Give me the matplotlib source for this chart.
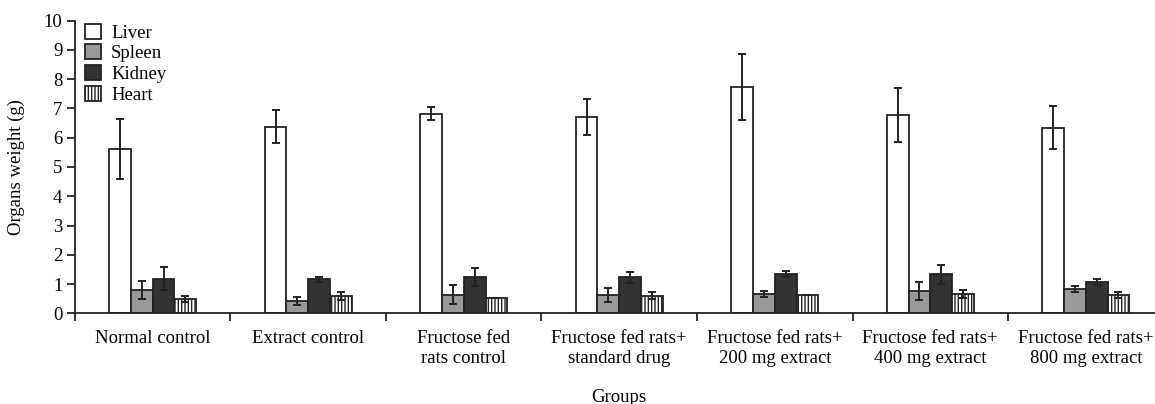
import numpy as np
import matplotlib
matplotlib.use('Agg')
import matplotlib.pyplot as plt

plt.rcParams['font.family'] = ['Liberation Serif', 'DejaVu Serif']
plt.rcParams['hatch.linewidth'] = 1.0
plt.rcParams['hatch.color'] = '#666666'

# grupos do eixo x
grupos = ['Normal control', 'Extract control', 'Fructose fed\nrats control',
          'Fructose fed rats+\nstandard drug', 'Fructose fed rats+\n200 mg extract',
          'Fructose fed rats+\n400 mg extract', 'Fructose fed rats+\n800 mg extract']
orgaos = ['Liver', 'Spleen', 'Kidney', 'Heart']

# medias
liver = [5.62, 6.38, 6.82, 6.70, 7.73, 6.78, 6.34]
spleen = [0.80, 0.42, 0.64, 0.64, 0.66, 0.76, 0.83]
kidney = [1.18, 1.16, 1.25, 1.23, 1.34, 1.33, 1.07]
heart = [0.49, 0.59, 0.52, 0.60, 0.63, 0.66, 0.62]

# erros (SD)
liver_err = [1.02, 0.57, 0.22, 0.62, 1.14, 0.93, 0.74]
spleen_err = [0.30, 0.15, 0.32, 0.24, 0.11, 0.32, 0.11]
kidney_err = [0.40, 0.08, 0.31, 0.18, 0.11, 0.32, 0.11]
heart_err = [0.10, 0.13, 0.00, 0.12, 0.00, 0.13, 0.11]

valores = [liver, spleen, kidney, heart]
erros = [liver_err, spleen_err, kidney_err, heart_err]
cores = ['white', '#999999', '#333333', 'white']
hachuras = [None, None, None, '|||||']

fs = 13.5
fig = plt.figure(figsize=(11.55, 4.04), dpi=100)
ax = fig.add_axes([0.0649, 0.2245, 0.9425, 0.7243])

x = np.arange(len(grupos))
largura = 0.14
for i in range(4):
    pos = x + (i - 1.5) * largura
    ax.bar(pos, valores[i], largura, color=cores[i], edgecolor='#222222',
           linewidth=1.3, hatch=hachuras[i], label=orgaos[i], zorder=2)
    ax.errorbar(pos, valores[i], yerr=erros[i], fmt='none', ecolor='#222222',
                elinewidth=1.4, capsize=3, capthick=1.4, zorder=3)

ax.set_xlim(-0.5, 6.5)
ax.set_ylim(0, 10)
ax.set_yticks(range(0, 11))
ax.set_xticks(np.arange(-0.5, 7.0, 1.0))
ax.set_xticklabels([])
ax.set_xticks(x, minor=True)
ax.set_xticklabels(grupos, minor=True, fontsize=fs, linespacing=1.25)
ax.tick_params(axis='x', which='minor', length=0, pad=12)
ax.tick_params(axis='x', which='major', length=6, width=1.3, direction='out', color='#222222')
ax.tick_params(axis='y', length=6, width=1.3, labelsize=fs, pad=3, color='#222222')

for s in ['top', 'right']:
    ax.spines[s].set_visible(False)
for s in ['left', 'bottom']:
    ax.spines[s].set_linewidth(1.3)
    ax.spines[s].set_color('#222222')

ax.set_ylabel('Organs weight (g)', fontsize=fs)
ax.yaxis.set_label_coords(-0.046, 0.5)
fig.text(0.536, 0.0173, 'Groups', fontsize=fs, ha='center', va='center')

ax.legend(loc='upper left', bbox_to_anchor=(-0.003, 1.035), frameon=False, fontsize=fs,
          handlelength=0.85, handleheight=0.85, labelspacing=0.15, handletextpad=0.55,
          borderaxespad=0.3)

plt.savefig('out.png', dpi=100)
